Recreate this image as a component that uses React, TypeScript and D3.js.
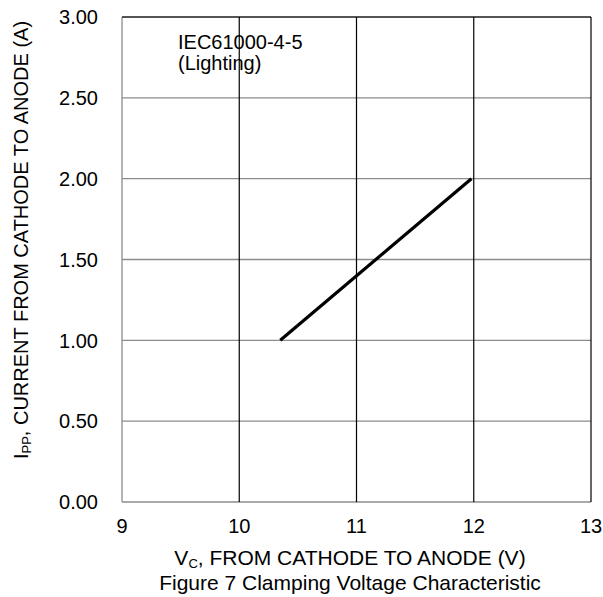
import React from "react";
import * as d3 from "d3";

const xTicks = [9, 10, 11, 12, 13];
const yTicks = [0, 0.5, 1.0, 1.5, 2.0, 2.5, 3.0];
const vcValues = [10.35, 11.98];
const ippValues = [1.0, 2.0];
const annotation = ["IEC61000-4-5", "(Lighting)"];

export default function App() {
  const W = 603, H = 597;
  const left = 122, right = 591, top = 17, bottom = 502;
  const x = d3.scaleLinear().domain([9, 13]).range([left, right]);
  const y = d3.scaleLinear().domain([0, 3]).range([bottom, top]);
  const pts = vcValues.map((v, i) => [v, ippValues[i]] as [number, number]);
  const line = d3.line<[number, number]>().x(d => x(d[0])).y(d => y(d[1]));
  const font = "Liberation Sans, Arial, sans-serif";
  return (
    <svg width={W} height={H} style={{ position: "absolute", left: 0, top: 0, fontFamily: font }}>
      <rect width={W} height={H} fill="#fff" />
      {yTicks.map(t => (
        <line key={"h" + t} x1={left} x2={right} y1={y(t)} y2={y(t)} stroke="#8c8c8c" strokeWidth={1.3} />
      ))}
      {xTicks.slice(1, -1).map(t => (
        <line key={"v" + t} x1={x(t)} x2={x(t)} y1={top} y2={bottom} stroke="#000" strokeWidth={1.2} />
      ))}
      <line x1={left} x2={left} y1={top} y2={bottom} stroke="#8c8c8c" strokeWidth={1.3} />
      <line x1={right} x2={right} y1={top} y2={bottom} stroke="#000" strokeWidth={1.2} />
      <line x1={left} x2={right} y1={top} y2={top} stroke="#000" strokeWidth={1.2} />
      <path d={line(pts) || ""} fill="none" stroke="#000" strokeWidth={3.2} />
      {yTicks.map(t => (
        <text key={"yl" + t} x={98} y={y(t)} dy="0.36em" textAnchor="end" fontSize={20}>
          {t.toFixed(2)}
        </text>
      ))}
      {xTicks.map(t => (
        <text key={"xl" + t} x={x(t)} y={533} textAnchor="middle" fontSize={20}>
          {t}
        </text>
      ))}
      <text x={178} y={49} fontSize={20}>{annotation[0]}</text>
      <text x={178} y={70} fontSize={20}>{annotation[1]}</text>
      <text x={350} y={565} textAnchor="middle" fontSize={21}>
        V<tspan fontSize={13} dy={3}>C</tspan><tspan dy={-3}>, FROM CATHODE TO ANODE (V)</tspan>
      </text>
      <text x={350} y={590} textAnchor="middle" fontSize={21}>
        Figure 7 Clamping Voltage Characteristic
      </text>
      <text transform="translate(28, 240) rotate(-90)" textAnchor="middle" fontSize={20}>
        I<tspan fontSize={13} dy={3}>PP</tspan><tspan dy={-3}>, CURRENT FROM CATHODE TO ANODE (A)</tspan>
      </text>
    </svg>
  );
}
